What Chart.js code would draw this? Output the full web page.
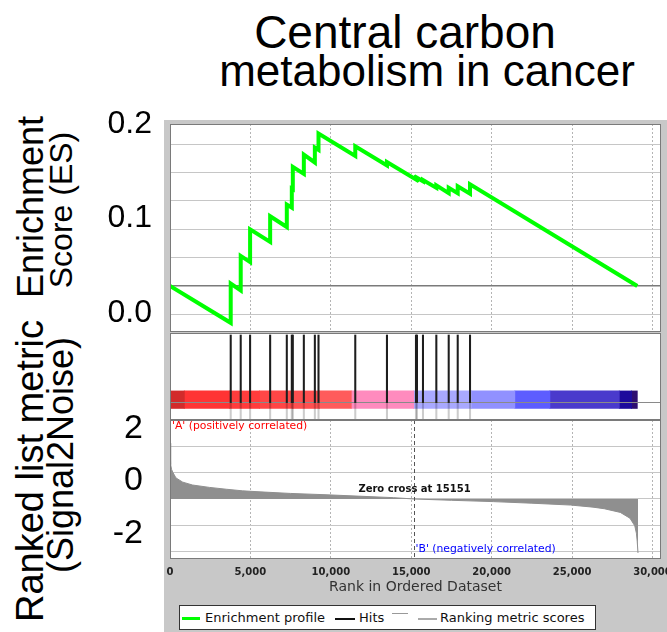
<!DOCTYPE html>
<html lang="en">
<head>
<meta charset="UTF-8">
<title>Central carbon metabolism in cancer</title>
<script src="https://cdn.jsdelivr.net/npm/chart.js@4"></script>
<style>
  html, body { margin: 0; padding: 0; background: #fff; }
  #wrap { position: relative; width: 667px; height: 632px; overflow: hidden; font-family: "Liberation Sans", Arial, sans-serif; }
  #wrap canvas { position: absolute; left: 0; }
  .panel { position: absolute; left: 164px; top: 120px; width: 503px; height: 512px; background: #c8c8c8; }
  .title { position: absolute; line-height: 1; white-space: nowrap; transform: translateX(-50%); color: #000; }
  .ylab { position: absolute; white-space: nowrap; line-height: 1; transform: translate(-50%, -50%) rotate(-90deg); color: #000; }
  .legend { position: absolute; left: 179px; top: 605px; width: 415px; height: 23px; border: 1px solid #333; background: #fff;
            font-family: "DejaVu Sans", sans-serif; font-size: 13px; color: #111; }
  .legend span { position: absolute; white-space: nowrap; }
  .legend .txt { top: 0; line-height: 23px; }
</style>
</head>
<body>
<div id="wrap">
  <div class="panel"></div>
  <div class="title" style="left:405px; top:9px; font-size:46px">Central carbon</div>
  <div class="title" style="left:427px; top:49px; font-size:44px">metabolism in cancer</div>
  <div class="ylab" style="left:31px; top:207px; font-size:36px">Enrichment</div>
  <div class="ylab" style="left:61px; top:210px; font-size:32px">Score (ES)</div>
  <div class="ylab" style="left:30px; top:471px; font-size:38px">Ranked list metric</div>
  <div class="ylab" style="left:61px; top:455px; font-size:36px">(Signal2Noise)</div>

  <canvas id="esChart" width="667" height="246" style="top:96px"></canvas>
  <canvas id="barChart" width="667" height="87" style="top:333px"></canvas>
  <canvas id="hitChart" width="667" height="87" style="top:333px"></canvas>
  <canvas id="rankChart" width="667" height="195" style="top:404px"></canvas>

  <div class="legend">
    <span style="left:2px; top:11px; width:18px; height:3px; background:#00ff00"></span>
    <span class="txt" style="left:25px">Enrichment profile</span>
    <span style="left:155px; top:12px; width:20px; height:1.5px; background:#111"></span>
    <span class="txt" style="left:179px">Hits</span>
    <span style="left:212px; top:7px; width:16px; height:1px; background:#999"></span>
    <span style="left:238px; top:12px; width:19px; height:1.5px; background:#aaa"></span>
    <span class="txt" style="left:260px">Ranking metric scores</span>
  </div>
</div>

<script>
  const X_MAX = 30530;
  const X_TICKS = [0, 5000, 10000, 15000, 20000, 25000, 30000];
  const ZERO_CROSS = 15151;

  // running enrichment score: one point before and one after each hit
  const ES_RANK = [0, 3775, 3775, 4397, 4397, 4980, 4980, 6227, 6227, 7263, 7263, 7574, 7574,
    7637, 7637, 8322, 8322, 9007, 9007, 9234, 9234, 11520, 11520, 13490, 13490, 15295, 15295,
    15355, 15355, 15730, 15730, 16560, 16560, 17330, 17330, 17890, 17890, 18655, 18655, 29055];
  const ES_VALUE = [0, -0.0326, 0.0021, -0.0040, 0.0265, 0.0210, 0.0500, 0.0388, 0.0615, 0.0520, 0.0718, 0.0691, 0.0860,
    0.0855, 0.1051, 0.0990, 0.1160, 0.1090, 0.1222, 0.1202, 0.1345, 0.1148, 0.1234, 0.1064, 0.1095, 0.0940, 0.0950,
    0.0945, 0.0956, 0.0924, 0.0935, 0.0866, 0.0889, 0.0820, 0.0866, 0.0818, 0.0880, 0.0814, 0.0898, 0];

  const HIT_RANK = [3775, 4397, 4980, 6227, 7263, 7574, 7637, 8322, 9007, 9234, 11520, 13490,
    15295, 15355, 15730, 16560, 17330, 17890, 18655];

  const BAR_EDGES = [0, 890, 3690, 5560, 7640, 9300, 11270, 15151, 18740, 21440, 23620, 27935, 28700, 29055];
  const BAR_COLORS = ['#d22b2b', '#ff3434', '#ff3c3c', '#ff4646', '#ff5050', '#ff5c5c', '#ff8bbe',
    '#a9a9ff', '#9191ff', '#5d5dff', '#4a3acc', '#1d0b9c', '#2e0e70'];

  const METRIC_RANK = [0, 40, 100, 170, 370, 790, 1400, 2450, 3500, 4500, 5600, 7500, 9700, 12000, 13900,
    15151, 17500, 20100, 22500, 24900, 26300, 27000, 28000, 28600, 28900, 29000, 29050, 29100];
  const METRIC_VALUE = [2.12, 1.3, 1.12, 1.02, 0.8, 0.64, 0.53, 0.44, 0.37, 0.31, 0.27, 0.21, 0.16, 0.10, 0.05,
    0, -0.05, -0.10, -0.16, -0.23, -0.31, -0.37, -0.51, -0.73, -1.02, -1.3, -1.6, -2.05];

  const ES_GRID = [-0.025, 0, 0.025, 0.05, 0.075, 0.1, 0.125];
  const ES_TICKS = [0, 0.1, 0.2];
  const METRIC_GRID = [-2, -1, 0, 1, 2];
  const METRIC_TICKS = [-2, 0, 2];

  // vertical grid dotted, horizontal grid light solid
  const VGRID = '#b4b4b4';
  const HGRID = '#c6c6c6';

  const framePlugin = {
    id: 'frame',
    defaults: { fill: true, stroke: true },
    beforeDraw(chart, args, opts) {
      if (!opts.fill) return;
      const {ctx, chartArea: a} = chart;
      ctx.save();
      ctx.fillStyle = '#fff';
      ctx.fillRect(a.left, a.top, a.width, a.height);
      ctx.restore();
    },
    afterDraw(chart, args, opts) {
      if (!opts.stroke) return;
      const {ctx, chartArea: a} = chart;
      ctx.save();
      ctx.strokeStyle = '#7a7a7a';
      ctx.lineWidth = 1;
      ctx.strokeRect(a.left + 0.5, a.top + 0.5, a.width - 1, a.height - 1);
      ctx.restore();
    }
  };

  const rankNotes = {
    id: 'rankNotes',
    afterDatasetsDraw(chart) {
      const {ctx, chartArea: a, scales: {x}} = chart;
      const zx = Math.round(x.getPixelForValue(ZERO_CROSS)) + 0.5;
      ctx.save();
      ctx.strokeStyle = '#555';
      ctx.lineWidth = 1;
      ctx.setLineDash([4, 3]);
      ctx.beginPath();
      ctx.moveTo(zx, a.top);
      ctx.lineTo(zx, a.bottom);
      ctx.stroke();
      ctx.setLineDash([]);
      ctx.textBaseline = 'middle';
      ctx.font = 'bold 10px "DejaVu Sans"';
      ctx.fillStyle = '#111';
      ctx.textAlign = 'center';
      ctx.fillText('Zero cross at ' + ZERO_CROSS, zx, a.top + 69);
      ctx.textAlign = 'left';
      ctx.font = '10.8px "DejaVu Sans"';
      ctx.fillStyle = '#ff0000';
      ctx.fillText("'A' (positively correlated)", a.left + 2, a.top + 6);
      ctx.fillStyle = '#0000ff';
      ctx.fillText("'B' (negatively correlated)", zx + 1, a.top + 129);
      ctx.restore();
    }
  };

  const isZero = c => c.tick && Math.abs(c.tick.value) < 1e-9;
  const fixWidth = w => s => { s.width = w; s.paddingTop = 0; s.paddingBottom = 0; };
  const fixHeight = h => s => { s.height = h; s.paddingLeft = 0; s.paddingRight = 0; };
  const setTicks = list => s => { s.ticks = list.map(v => ({value: v})); };

  // enrichment score panel
  new Chart(document.getElementById('esChart'), {
    type: 'line',
    data: {
      datasets: [{
        label: 'Enrichment profile',
        data: ES_RANK.map((r, i) => ({x: r, y: ES_VALUE[i]})),
        borderColor: '#00ff00',
        borderWidth: 4,
        pointRadius: 0
      }]
    },
    options: {
      animation: false, responsive: false, events: [],
      plugins: { legend: { display: false }, tooltip: { enabled: false } },
      layout: { padding: { top: 28, bottom: 10, left: 0, right: 6 } },
      scales: {
        x: { type: 'linear', min: 0, max: X_MAX, afterBuildTicks: setTicks(X_TICKS), ticks: { display: false },
             grid: { color: VGRID, drawTicks: false }, border: { display: false, dash: [2, 2] }, afterFit: fixHeight(0) },
        y: {
          position: 'left', min: -0.0407, max: 0.143,
          afterBuildTicks: setTicks(ES_GRID),
          ticks: { display: false },
          grid: { drawTicks: false, color: c => isZero(c) ? '#7a7a7a' : HGRID, lineWidth: c => isZero(c) ? 1.5 : 1 },
          border: { display: false },
          afterFit: fixWidth(0)
        },
        yl: {
          position: 'left', min: -0.02, max: 0.2,
          afterBuildTicks: setTicks(ES_TICKS),
          ticks: { autoSkip: false, padding: 18, color: '#000', font: { family: 'Liberation Sans', size: 32 }, callback: v => v.toFixed(1) },
          grid: { display: false, drawTicks: false },
          border: { display: false },
          afterFit: fixWidth(170)
        }
      }
    },
    plugins: [framePlugin]
  });

  // ranked list metric panel
  new Chart(document.getElementById('rankChart'), {
    type: 'line',
    data: {
      datasets: [{
        label: 'Ranking metric scores',
        data: METRIC_RANK.map((r, i) => ({x: r, y: METRIC_VALUE[i]})),
        borderColor: '#8f8f8f',
        backgroundColor: '#8f8f8f',
        borderWidth: 1,
        pointRadius: 0,
        fill: 'origin'
      }]
    },
    options: {
      animation: false, responsive: false, events: [],
      plugins: { legend: { display: false }, tooltip: { enabled: false } },
      layout: { padding: { top: 16, bottom: 0, left: 0, right: 6 } },
      scales: {
        x: {
          type: 'linear', min: 0, max: X_MAX,
          afterBuildTicks: setTicks(X_TICKS),
          ticks: { autoSkip: false, maxRotation: 0, padding: 7, color: '#222',
                   font: { family: 'DejaVu Sans', size: 10, weight: 'bold' }, callback: v => v.toLocaleString('en-US') },
          grid: { color: VGRID, drawTicks: false },
          border: { display: false, dash: [2, 2] },
          title: { display: true, text: 'Rank in Ordered Dataset', color: '#333',
                   font: { family: 'DejaVu Sans', size: 14 }, padding: { top: 0, bottom: 3 } },
          afterFit: fixHeight(40)
        },
        y: {
          position: 'left', min: -2.28, max: 3.0,
          afterBuildTicks: setTicks(METRIC_GRID),
          ticks: { display: false },
          grid: { drawTicks: false, color: HGRID },
          border: { display: false },
          afterFit: fixWidth(0)
        },
        yl: {
          position: 'left', min: -2.28, max: 3.0,
          afterBuildTicks: setTicks(METRIC_TICKS),
          ticks: { autoSkip: false, padding: 27, labelOffset: -18, color: '#000', font: { family: 'Liberation Sans', size: 34 } },
          grid: { display: false, drawTicks: false },
          border: { display: false },
          afterFit: fixWidth(170)
        }
      }
    },
    plugins: [framePlugin, rankNotes]
  });

  // colour bar of the ranked list
  new Chart(document.getElementById('barChart'), {
    type: 'bar',
    data: {
      datasets: BAR_COLORS.map((c, i) => ({
        data: [{x: [BAR_EDGES[i], BAR_EDGES[i + 1]], y: 0.1}],
        backgroundColor: c, barThickness: 17.4, grouped: false, inflateAmount: 0.4
      }))
    },
    options: {
      animation: false, responsive: false, events: [],
      indexAxis: 'y',
      layout: { padding: { top: 0, bottom: 0, left: 170, right: 6 } },
      scales: {
        x: { type: 'linear', min: 0, max: X_MAX, display: false },
        y: { type: 'linear', min: 0, max: 1, display: false }
      },
      plugins: { legend: { display: false }, tooltip: { enabled: false }, frame: { fill: true, stroke: false } }
    },
    plugins: [framePlugin]
  });

  // hits
  new Chart(document.getElementById('hitChart'), {
    type: 'bar',
    data: {
      datasets: [
        { label: 'Hits', data: HIT_RANK.map(r => ({x: r, y: [0.2, 0.977]})),
          backgroundColor: '#1e1e1e', barThickness: 1.4, grouped: false },
        { label: 'Hits on bar', data: HIT_RANK.map(r => ({x: r, y: [0, 0.2]})),
          backgroundColor: 'rgba(0,0,0,0.2)', barThickness: 1.4, grouped: false }
      ]
    },
    options: {
      animation: false, responsive: false, events: [],
      layout: { padding: { top: 0, bottom: 0, left: 170, right: 6 } },
      scales: {
        x: { type: 'linear', min: 0, max: X_MAX, offset: false, display: false },
        y: {
          position: 'left', min: 0, max: 1,
          afterBuildTicks: setTicks([0.2]),
          ticks: { display: false },
          grid: { color: '#8a8a8a', drawTicks: false },
          border: { display: false },
          afterFit: fixWidth(0)
        }
      },
      plugins: { legend: { display: false }, tooltip: { enabled: false }, frame: { fill: false, stroke: true } }
    },
    plugins: [framePlugin]
  });
</script>
</body>
</html>
